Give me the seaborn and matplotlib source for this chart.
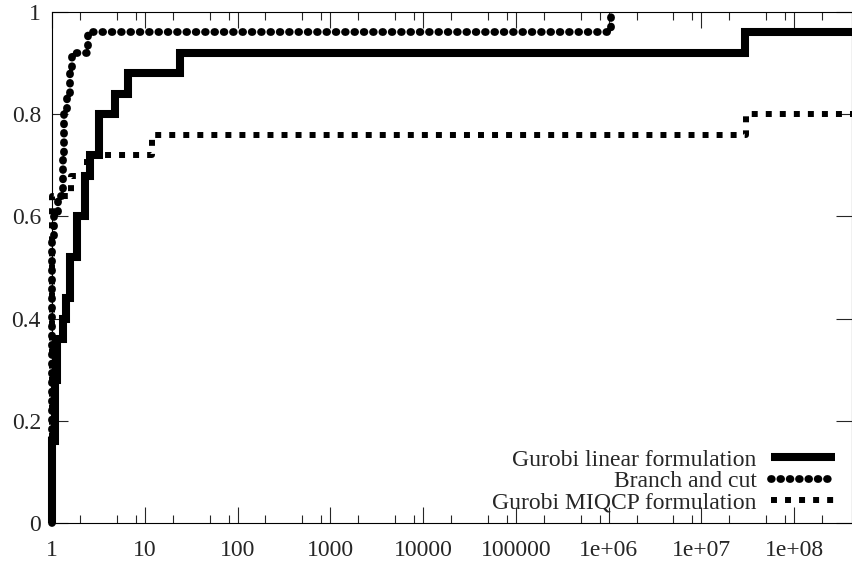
import matplotlib
matplotlib.use("Agg")
import matplotlib.pyplot as plt
from matplotlib.ticker import FixedLocator, FixedFormatter, NullFormatter
import pandas as pd
import seaborn as sns

# performance profile data (25 instances -> steps of 0.04)
linear_tau = [1, 1, 1.07, 1.12, 1.3, 1.42, 1.57, 1.85, 2.25, 2.6, 3.2, 4.8, 6.6, 24, 2.95e7, 4.2e8]
linear_rho = [0, 0.16, 0.28, 0.36, 0.40, 0.44, 0.52, 0.60, 0.68, 0.72, 0.80, 0.84, 0.88, 0.92, 0.96, 0.96]

bc_tau = [1, 1, 1.05, 1.17, 1.3, 1.35, 1.45, 1.55, 1.65, 2.45, 1.05e6, 1.05e6]
bc_rho = [0, 0.56, 0.60, 0.64, 0.72, 0.80, 0.84, 0.88, 0.92, 0.96, 0.96, 1.0]

miqcp_tau = [1, 1, 1.6, 2.4, 12, 3.05e7, 4.2e8]
miqcp_rho = [0, 0.64, 0.68, 0.72, 0.76, 0.80, 0.80]

series_names = ["Gurobi linear formulation", "Branch and cut", "Gurobi MIQCP formulation"]

x_ticks = [1, 10, 100, 1000, 10000, 100000, 1e6, 1e7, 1e8]
x_labels = ["1", "10", "100", "1000", "10000", "100000", "1e+06", "1e+07", "1e+08"]
y_ticks = [0, 0.2, 0.4, 0.6, 0.8, 1.0]
y_labels = ["0", "0.2", "0.4", "0.6", "0.8", "1"]

sns.set_style("ticks")
plt.rcParams["font.family"] = ["Liberation Serif", "DejaVu Serif"]
plt.rcParams["font.size"] = 17

fig = plt.figure(figsize=(8.53, 5.61), dpi=100)
ax = fig.add_axes([52 / 853, 38 / 561, 800 / 853, 511 / 561])

df_lin = pd.DataFrame({"tau": linear_tau, "rho": linear_rho})
df_bc = pd.DataFrame({"tau": bc_tau, "rho": bc_rho})
df_mq = pd.DataFrame({"tau": miqcp_tau, "rho": miqcp_rho})

sns.lineplot(data=df_lin, x="tau", y="rho", ax=ax, estimator=None, sort=False,
             drawstyle="steps-post", color="black", linewidth=5.8,
             solid_capstyle="butt", solid_joinstyle="miter",
             label=series_names[0], clip_on=False)
sns.lineplot(data=df_bc, x="tau", y="rho", ax=ax, estimator=None, sort=False,
             drawstyle="steps-post", color="black", linewidth=5.6,
             dashes=(0.1, 1.1), dash_capstyle="round",
             label=series_names[1], clip_on=False)
sns.lineplot(data=df_mq, x="tau", y="rho", ax=ax, estimator=None, sort=False,
             drawstyle="steps-post", color="black", linewidth=4.3,
             dashes=(1.0, 1.35), dash_capstyle="butt",
             label=series_names[2], clip_on=False)

ax.set_xscale("log")
ax.set_xlim(1, 4.2e8)
ax.set_ylim(0, 1)

ax.xaxis.set_major_locator(FixedLocator(x_ticks))
ax.xaxis.set_major_formatter(FixedFormatter(x_labels))
minor = [m * 10 ** k for k in range(9) for m in (2, 5, 8)]
ax.xaxis.set_minor_locator(FixedLocator(minor))
ax.xaxis.set_minor_formatter(NullFormatter())
ax.yaxis.set_major_locator(FixedLocator(y_ticks))
ax.yaxis.set_major_formatter(FixedFormatter(y_labels))

ax.tick_params(axis="both", which="major", direction="in", length=11.5, width=0.8,
               top=True, right=True, labelsize=17)
ax.tick_params(axis="x", which="major", pad=12)
ax.tick_params(axis="y", which="major", pad=8)
ax.tick_params(axis="x", which="minor", direction="in", length=5.8, width=0.8, top=True)
for s in ax.spines.values():
    s.set_linewidth(0.8)
    s.set_color("black")
    s.set_visible(True)
ax.set_xlabel("")
ax.set_ylabel("")

leg = ax.legend(loc="lower right", bbox_to_anchor=(0.99, 0.0), frameon=False,
                markerfirst=False, handlelength=2.7, handletextpad=0.6,
                labelspacing=0.0, borderaxespad=0.0, fontsize=17)

fig.savefig("out.png", dpi=100)
